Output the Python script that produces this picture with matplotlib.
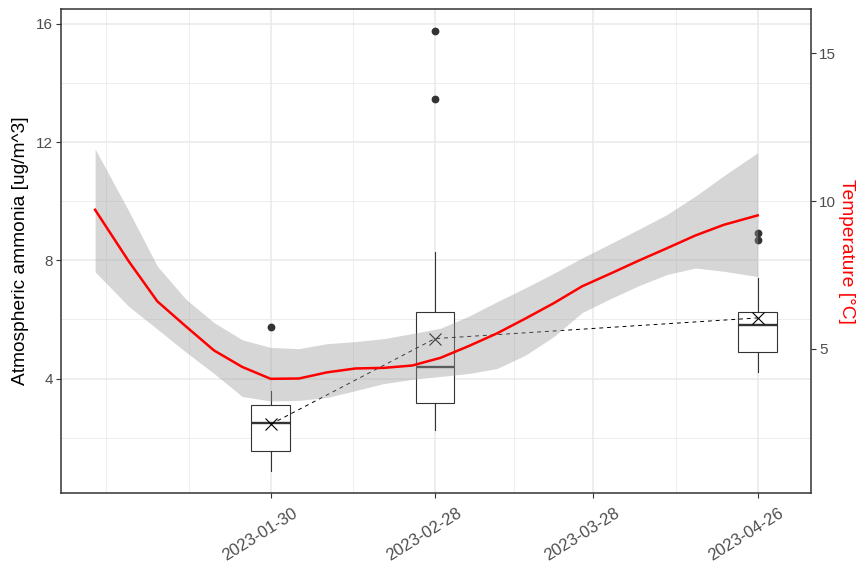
import matplotlib
matplotlib.use("Agg")
import matplotlib.pyplot as plt
import matplotlib.dates as mdates
import matplotlib.transforms as mtransforms
from matplotlib.ticker import FixedLocator, NullFormatter
import numpy as np

plt.rcParams['font.family'] = ['Liberation Sans', 'DejaVu Sans']

# --- ammonia sampling campaigns (box statistics, ug/m^3) ---
sample_dates = ["2023-01-30", "2023-02-28", "2023-04-26"]
whisker_low = [0.87, 2.25, 4.23]
q1 = [1.54, 3.18, 4.90]
median = [2.48, 4.40, 5.80]
q3 = [3.12, 6.25, 6.25]
whisker_high = [3.57, 8.28, 7.40]
outliers = [[5.75], [13.46, 15.76], [8.70, 8.93]]
means = [2.45, 5.35, 6.05]

# --- x axis breaks ---
break_dates = ["2023-01-30", "2023-02-28", "2023-03-28", "2023-04-26"]
ammonia_ticks = [4, 8, 12, 16]
temp_ticks = [5, 10, 15]

# --- smoothed air temperature with confidence band (deg C) ---
temp_dates = ["2022-12-30", "2023-01-05", "2023-01-10", "2023-01-15", "2023-01-20",
              "2023-01-25", "2023-01-30", "2023-02-04", "2023-02-09", "2023-02-14",
              "2023-02-19", "2023-02-24", "2023-03-01", "2023-03-06", "2023-03-11",
              "2023-03-16", "2023-03-21", "2023-03-26", "2023-03-31", "2023-04-05",
              "2023-04-10", "2023-04-15", "2023-04-20", "2023-04-26"]
temp_fit = [9.71, 7.95, 6.61, 5.77, 4.95, 4.39, 3.99, 4.00, 4.21, 4.34, 4.36, 4.44,
            4.70, 5.10, 5.53, 6.03, 6.55, 7.12, 7.55, 7.99, 8.41, 8.84, 9.20, 9.52]
temp_upper = [11.77, 9.65, 7.80, 6.69, 5.89, 5.31, 5.05, 5.01, 5.18, 5.25, 5.35, 5.52,
              5.70, 6.11, 6.60, 7.07, 7.56, 8.08, 8.56, 9.05, 9.55, 10.17, 10.86, 11.64]
temp_lower = [7.61, 6.43, 5.67, 4.90, 4.17, 3.39, 3.24, 3.26, 3.36, 3.59, 3.83, 3.97,
              4.07, 4.17, 4.34, 4.79, 5.42, 6.23, 6.70, 7.14, 7.52, 7.74, 7.63, 7.45]


def to_num(strings):
    return mdates.date2num(np.array(strings, dtype="datetime64[D]"))


x_samples = to_num(sample_dates)
x_breaks = to_num(break_dates)
x_temp = to_num(temp_dates)
box_width = 6.8  # days

W, H = 858, 565
fig = plt.figure(figsize=(W / 100, H / 100), dpi=100)
ax = fig.add_axes([61 / W, (H - 493) / H, 750 / W, 484 / H])

grid_col = "#EBEBEB"
dark = "#333333"

# boxplots
stats = []
for i in range(len(sample_dates)):
    stats.append(dict(med=median[i], q1=q1[i], q3=q3[i], whislo=whisker_low[i],
                      whishi=whisker_high[i], fliers=np.array(outliers[i])))
ax.bxp(stats, positions=x_samples, widths=box_width, patch_artist=True,
       showcaps=False, manage_ticks=False,
       boxprops=dict(facecolor="white", edgecolor=dark, linewidth=0.8),
       whiskerprops=dict(color=dark, linewidth=0.8),
       medianprops=dict(color=dark, linewidth=1.7),
       flierprops=dict(marker="o", markersize=4.6, markerfacecolor=dark,
                       markeredgecolor=dark, linestyle="none"),
       zorder=2)

# campaign means
ax.plot(x_samples, means, color="black", linestyle=(0, (4, 4)), linewidth=0.7,
        marker="x", markersize=9, markeredgewidth=0.8, zorder=3)

# temperature smooth
ax.fill_between(x_temp, temp_lower, temp_upper, color="#999999", alpha=0.4,
                linewidth=0, zorder=4)
ax.plot(x_temp, temp_fit, color="red", linewidth=1.8, zorder=5)

# x limits with 5% expansion
x_lo = x_temp.min()
x_hi = max(x_temp.max(), x_samples.max() + box_width / 2)
pad = 0.05 * (x_hi - x_lo)
ax.set_xlim(x_lo - pad, x_hi + pad)

all_y = [*whisker_low, *whisker_high, *sum(outliers, []), *temp_lower, *temp_upper]
y_lo, y_hi = min(all_y), max(all_y)
ypad = 0.05 * (y_hi - y_lo)
ax.set_ylim(y_lo - ypad, y_hi + ypad)

# ticks and grid
ax.xaxis.set_major_locator(FixedLocator(x_breaks))
step = x_breaks[1] - x_breaks[0]
ext = np.concatenate([[x_breaks[0] - step], x_breaks])
x_minor = np.concatenate([[ext[0]], (ext[:-1] + ext[1:]) / 2])
ax.xaxis.set_minor_locator(FixedLocator(x_minor))
ax.yaxis.set_major_locator(FixedLocator(ammonia_ticks))
ax.yaxis.set_minor_locator(FixedLocator([2, 6, 10, 14]))
ax.xaxis.set_minor_formatter(NullFormatter())
ax.yaxis.set_minor_formatter(NullFormatter())

ax.grid(which="major", color=grid_col, linewidth=1.2, zorder=0)
ax.grid(which="minor", color=grid_col, linewidth=0.6, zorder=0)
ax.set_axisbelow(True)

ax.tick_params(which="major", length=3.4, width=0.8, color=dark, pad=2.5,
               labelsize=11, labelcolor="#4D4D4D")
ax.tick_params(axis="x", which="major", pad=3, labelsize=12)
ax.tick_params(which="minor", length=0)
for s in ax.spines.values():
    s.set_color(dark)
    s.set_linewidth(1.1)

# rotated date labels, nudged along the baseline
ax.set_xticklabels(break_dates, rotation=32, ha="right", va="top",
                   rotation_mode="anchor")
shift = mtransforms.ScaledTranslation(21 / 100, -4 / 100, fig.dpi_scale_trans)
for tick in ax.xaxis.get_major_ticks(len(break_dates)):
    tick.label1.set_transform(tick.label1.get_transform() + shift)

# secondary temperature axis
sec = ax.secondary_yaxis("right", functions=(lambda v: v, lambda v: v))
sec.yaxis.set_major_locator(FixedLocator(temp_ticks))
sec.tick_params(length=3.4, width=0.8, color=dark, pad=2.5, labelsize=11,
                labelcolor="#4D4D4D")
sec.spines["right"].set_visible(False)

mid_y = 1 - 251 / H
fig.text(21 / W, mid_y, "Atmospheric ammonia [ug/m^3]", rotation=90,
         ha="center", va="center", fontsize=13.8, color="black")
fig.text(846 / W, mid_y, "Temperature [°C]", rotation=-90,
         ha="center", va="center", fontsize=13.8, color="red")

fig.savefig("out.png", dpi=100, facecolor="white")
